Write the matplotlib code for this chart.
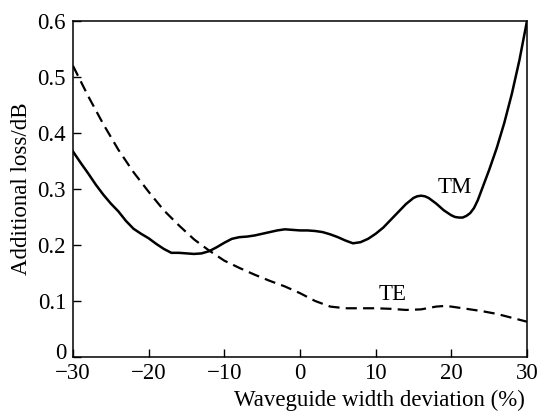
import matplotlib.pyplot as plt
from matplotlib.transforms import ScaledTranslation

plt.rcParams['font.family'] = ['Liberation Serif', 'DejaVu Serif']

# readings from the reference picture
tm_x = [-30, -29, -28, -27, -26, -25, -24, -23, -22, -21, -20, -19, -18, -17, -16, -15, -14, -13, -12, -11, -10, -9, -8, -7,
        -6, -5, -4, -3, -2, -1, 0, 1, 2, 3, 4, 5, 6, 7, 8, 9, 10, 11, 12, 13, 14, 15, 15.5, 16, 16.5, 17, 18, 19, 20, 20.5,
        21, 21.5, 22, 22.5, 23, 23.5, 24, 25, 26, 27, 28, 29, 30]
tm_y = [0.367, 0.347, 0.328, 0.308, 0.290, 0.274, 0.260, 0.243, 0.229, 0.220, 0.212, 0.202, 0.193, 0.186, 0.186, 0.185, 0.184, 0.185,
        0.189, 0.196, 0.204, 0.211, 0.214, 0.215, 0.217, 0.220, 0.223, 0.226, 0.228, 0.227, 0.226, 0.226, 0.225, 0.223, 0.219, 0.214,
        0.208, 0.203, 0.205, 0.211, 0.220, 0.231, 0.245, 0.259, 0.273, 0.284, 0.287, 0.288, 0.287, 0.284, 0.274, 0.262, 0.253, 0.250,
        0.249, 0.249, 0.252, 0.257, 0.266, 0.280, 0.298, 0.334, 0.373, 0.418, 0.470, 0.530, 0.600]

te_x = [-30, -28, -26, -24, -22, -20, -18, -16, -14, -12, -10, -8, -6, -4, -2, 0, 2, 4, 6, 8, 10, 12, 14, 16, 18, 19, 20, 22, 24, 26, 28, 30]
te_y = [0.520, 0.466, 0.416, 0.370, 0.330, 0.295, 0.262, 0.235, 0.210, 0.190, 0.172, 0.159, 0.147, 0.136, 0.126, 0.114, 0.100, 0.090,
        0.087, 0.087, 0.087, 0.086, 0.084, 0.085, 0.090, 0.091, 0.090, 0.086, 0.082, 0.077, 0.070, 0.063]

fig = plt.figure(figsize=(5.39, 4.15), dpi=100)
ax = fig.add_axes([0.1354, 0.1398, 0.8423, 0.8096])

ax.plot(tm_x, tm_y, color='black', lw=1.8)
ax.plot(te_x, te_y, color='black', lw=1.6, linestyle=(0, (5, 2.8)))

ax.text(20.5, 0.303, 'TM', fontsize=16.5, ha='center', va='center')
ax.text(12.3, 0.111, 'TE', fontsize=16.5, ha='center', va='center')

ax.set_xlim(-30, 30)
ax.set_ylim(0, 0.6)
ax.set_xticks([-30, -20, -10, 0, 10, 20, 30])
ax.set_xticklabels(['\u221230', '\u221220', '\u221210', '0', '10', '20', '30'])
ax.set_yticks([0, 0.1, 0.2, 0.3, 0.4, 0.5, 0.6])
ax.set_yticklabels(['0', '0.1', '0.2', '0.3', '0.4', '0.5', '0.6'])
ax.tick_params(direction='in', length=6, width=1, labelsize=16.5, top=False, right=False)
ax.tick_params(axis='x', pad=4)
ax.tick_params(axis='y', pad=5)
# lift the "0" on the y axis a little, as in the original
zero = ax.get_yticklabels()[0]
zero.set_transform(zero.get_transform() + ScaledTranslation(0, 4 / 72, fig.dpi_scale_trans))
ax.set_xlabel('Waveguide width deviation (%)', fontsize=16.5)
ax.xaxis.set_label_coords(0.676, -0.098)
ax.set_ylabel('Additional loss/dB', fontsize=16.5, labelpad=4)
for s in ax.spines.values():
    s.set_linewidth(1.1)

fig.savefig('out.png', dpi=100)
